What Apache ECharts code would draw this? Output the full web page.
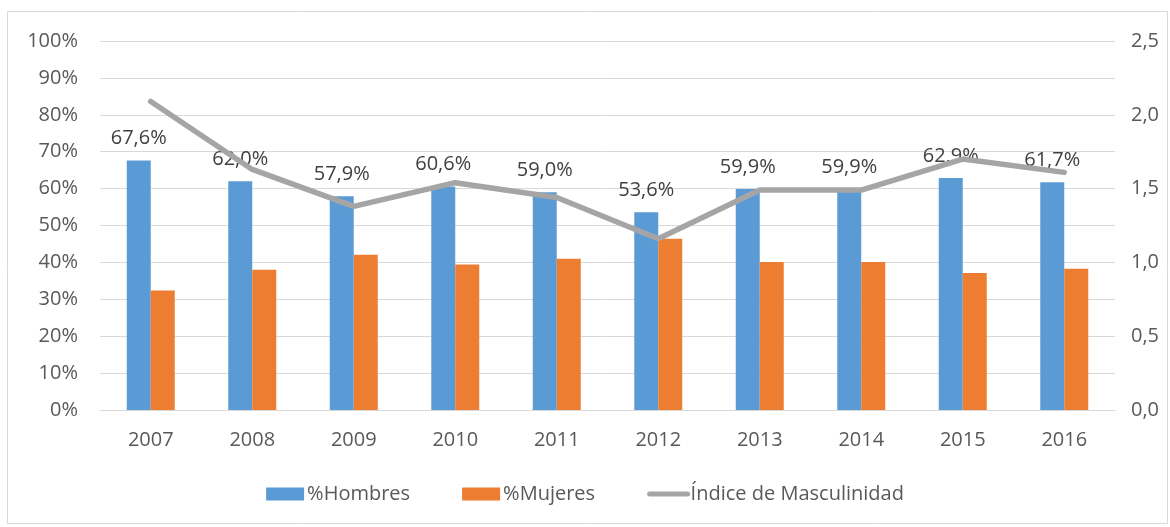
<!DOCTYPE html>
<html><head><meta charset="utf-8">
<script src="https://cdn.jsdelivr.net/npm/echarts@6/dist/echarts.min.js"></script>
<style>html,body{margin:0;padding:0;background:#fff}#c{width:1170px;height:527px}</style>
</head><body><div id="c"></div>
<script>
const years = ['2007','2008','2009','2010','2011','2012','2013','2014','2015','2016'];
const hombres = [67.6, 62.0, 57.9, 60.6, 59.0, 53.6, 59.9, 59.9, 62.9, 61.7];
const mujeres = [32.4, 38.0, 42.1, 39.4, 41.0, 46.4, 40.1, 40.1, 37.1, 38.3];
const indice = [2.09, 1.63, 1.38, 1.54, 1.44, 1.16, 1.49, 1.49, 1.70, 1.61];

const txt = '#595959';
const font = "'Open Sans', 'Noto Sans', sans-serif";
const fs = 20;
const chart = echarts.init(document.getElementById('c'));
chart.setOption({
  animation: false,
  textStyle: {fontFamily: font},
  graphic: [{type:'rect', shape:{x:7.5,y:11.5,width:1160,height:512}, style:{fill:'none', stroke:'#D9D9D9', lineWidth:1}}],
  grid: {left:100, right:55, top:41, bottom:117},
  legend: {
    bottom: 18, left: 'center', itemGap: 52, itemWidth: 38, itemHeight: 13,
    textStyle: {color: txt, fontSize: fs, fontFamily: font, padding: [0,0,0,-2]},
    data: [{name:'%Hombres', icon:'rect'}, {name:'%Mujeres', icon:'rect'},
           {name:'Índice de Masculinidad', itemStyle:{opacity:0}, lineStyle:{width:5, color:'#A5A5A5'}}]
  },
  xAxis: {
    type: 'category', data: years,
    axisLine: {lineStyle: {color:'#D9D9D9', width:1}},
    axisTick: {show:false},
    axisLabel: {color: txt, fontSize: fs, margin: 20}
  },
  yAxis: [{
    type: 'value', min: 0, max: 100, interval: 10,
    axisLabel: {color: txt, fontSize: fs, margin: 22, formatter: v => v + '%'},
    splitLine: {lineStyle: {color:'#D9D9D9', width:1}},
    axisLine: {show:false}, axisTick: {show:false}
  }, {
    type: 'value', min: 0, max: 2.5, interval: 0.5,
    axisLabel: {color: txt, fontSize: fs, margin: 16, formatter: v => v.toFixed(1).replace('.', ',')},
    splitLine: {show:false}, axisLine: {show:false}, axisTick: {show:false}
  }],
  series: [{
    name: '%Hombres', type: 'bar', data: hombres, barWidth: 24, barGap: '0%',
    itemStyle: {color: '#5B9BD5'},
    label: {show: true, position: 'top', distance: 12, color: '#404040', fontSize: fs,
      formatter: p => p.value.toFixed(1).replace('.', ',') + '%'}
  }, {
    name: '%Mujeres', type: 'bar', data: mujeres, barWidth: 24,
    itemStyle: {color: '#ED7D31'}
  }, {
    name: 'Índice de Masculinidad', type: 'line', yAxisIndex: 1, data: indice,
    symbol: 'none', lineStyle: {color: '#A5A5A5', width: 5.5, cap: 'round'},
    itemStyle: {color: '#A5A5A5'}, z: 5
  }]
});
</script></body></html>
